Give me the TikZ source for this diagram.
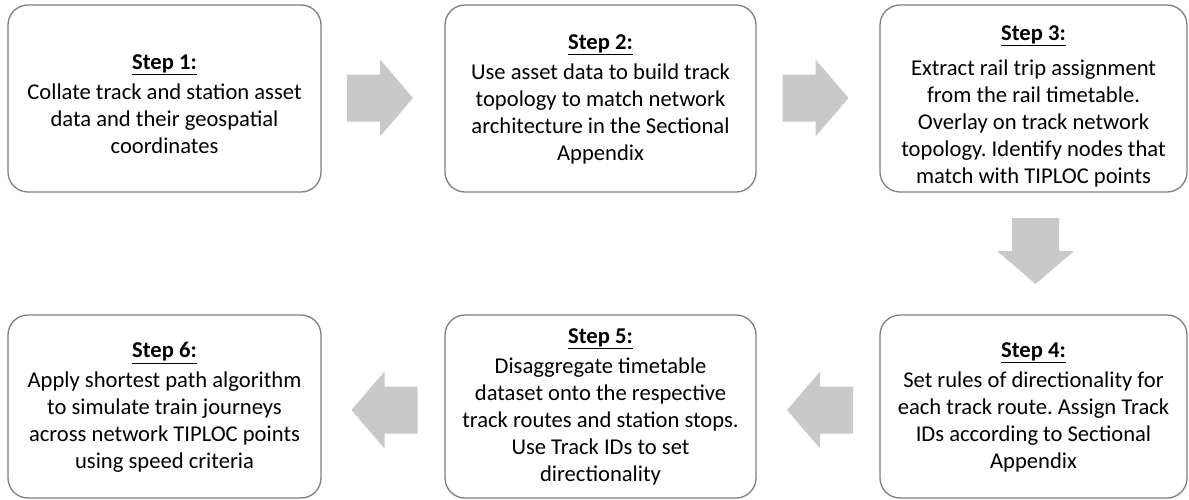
\documentclass[tikz,border=0pt]{standalone}
\usepackage{fontspec}
\setmainfont{Carlito}
\definecolor{boxline}{HTML}{7F7F7F}
\definecolor{arrowfill}{HTML}{C9C9C9}
\tikzset{
  stepbox/.style={draw=boxline, line width=1.3pt, rounded corners=20pt, fill=white, inner sep=0pt},
  steptext/.style={align=center, inner sep=0pt, font=\fontsize{22.6}{27}\selectfont},
  toprow/.style={minimum height=187pt},
  botrow/.style={minimum height=183pt},
  pics/blockarrow/.style={code={
    \fill[arrowfill] (-33,-23.5) -- (0,-23.5) -- (0,-38.5) -- (33,0)
      -- (0,38.5) -- (0,23.5) -- (-33,23.5) -- cycle;}}
}
\newcommand{\stephead}[2][3pt]{\textbf{\underline{#2}}\\[#1]}
\begin{document}
\frenchspacing
\begin{tikzpicture}[x=1pt,y=-1pt]
\useasboundingbox (0,0) rectangle (1189,499);
\node[stepbox, toprow, minimum width=313pt] (s1) at (164.5,98.5) {};
\node[stepbox, toprow, minimum width=311pt] (s2) at (600.5,98.5) {};
\node[stepbox, toprow, minimum width=307pt] (s3) at (1033.5,98.5) {};
\node[stepbox, botrow, minimum width=307pt] (s4) at (1033.5,406.5) {};
\node[stepbox, botrow, minimum width=311pt] (s5) at (600.5,406.5) {};
\node[stepbox, botrow, minimum width=313pt] (s6) at (164.5,406.5) {};
\node[steptext] (t1) at ([yshift=-5.5pt]s1.center)
  {\stephead{Step 1:}Collate track and station asset\\data and their geospatial\\coordinates};
\node[steptext] (t2) at ([yshift=-1pt]s2.center)
  {\stephead{Step 2:}Use asset data to build track\\topology to match network\\architecture in the Sectional\\Appendix};
\node[steptext] (t3) at ([yshift=-8pt]s3.center)
  {\stephead[8pt]{Step 3:}Extract rail trip assignment\\from the rail timetable.\\Overlay on track network\\topology. Identify nodes that\\match with TIPLOC points};
\node[steptext] (t4) at ([yshift=-1pt]s4.center)
  {\stephead{Step 4:}Set rules of directionality for\\each track route. Assign Track\\IDs according to Sectional\\Appendix};
\node[steptext] (t5) at ([yshift=0pt]s5.center)
  {\stephead{Step 5:}Disaggregate timetable\\dataset onto the respective\\track routes and station stops.\\Use Track IDs to set\\directionality};
\node[steptext] (t6) at ([yshift=-1pt]s6.center)
  {\stephead{Step 6:}Apply shortest path algorithm\\to simulate train journeys\\across network TIPLOC points\\using speed criteria};
\pic (a12) at (380,98) {blockarrow};
\pic (a23) at (815.5,98) {blockarrow};
\pic[rotate=270] (a34) at (1035.5,251) {blockarrow};
\pic[rotate=180] (a45) at (820,410) {blockarrow};
\pic[rotate=180] (a56) at (384.5,410) {blockarrow};
\end{tikzpicture}
\end{document}
